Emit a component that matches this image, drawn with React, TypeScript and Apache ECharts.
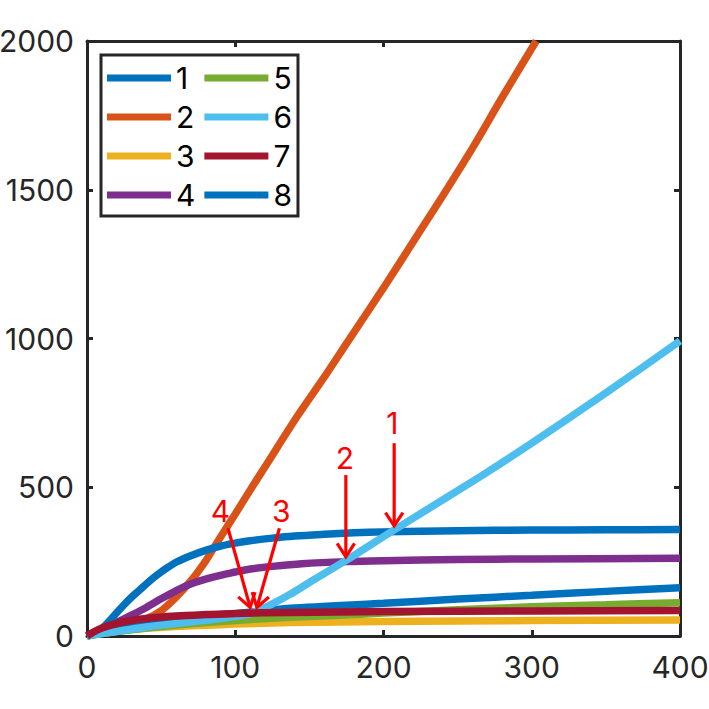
import React, { useEffect, useRef } from "react";
import * as echarts from "echarts";

const seriesNames = ["1", "2", "3", "4", "5", "6", "7", "8"];
const seriesColors = ["#0072BD", "#D95319", "#EDB120", "#7E2F8E", "#77AC30", "#4DBEEE", "#A2142F", "#0072BD"];
// drawing order (higher = on top)
const seriesStack = [15, 12, 10, 14, 11, 16, 17, 12.5];

const s1 = [[0, 0], [5, 8], [10, 25], [15, 50], [20, 78], [25, 105], [30, 130], [35, 152], [40, 175], [45, 196], [50, 215], [55, 232], [60, 248], [70, 270], [80, 288], [90, 302], [100, 312], [110, 320], [125, 329], [140, 336], [160, 342], [180, 347], [200, 350], [250, 354], [300, 356], [350, 357], [400, 358]];
const s2 = [[0, 0], [10, 14], [20, 30], [30, 44], [40, 58], [50, 85], [60, 130], [70, 185], [80, 252], [85, 292], [90, 332], [100, 410], [110, 490], [120, 568], [141.6, 737], [160, 870], [175, 983], [200, 1170], [225, 1364], [240, 1480], [260, 1640], [280, 1810], [303, 2000]];
const s3 = [[0, 0], [10, 10], [20, 17], [40, 26], [60, 32], [80, 36], [100, 40], [137, 45], [200, 49], [300, 52], [400, 54]];
const s4 = [[0, 0], [10, 22], [20, 45], [30, 70], [40, 96], [50, 125], [60, 152], [70, 175], [85, 198], [100, 215], [110, 225], [125, 234], [145, 243], [175, 250], [200, 253], [250, 257], [300, 259], [400, 261]];
const s5 = [[0, 0], [10, 8], [20, 15], [40, 27], [60, 37], [80, 45], [100, 52], [137, 63], [170, 70], [200, 77], [250, 88], [300, 98], [350, 105], [400, 112]];
const s6 = [[0, 0], [10, 8], [20, 15], [40, 30], [60, 42], [80, 53], [95, 63], [105, 70], [110, 75], [120, 95], [137, 140], [150, 180], [175, 255], [207, 356], [265, 535], [300, 648], [350, 817], [400, 992]];
const s7 = [[0, 0], [5, 15], [10, 27], [20, 42], [30, 52], [40, 59], [60, 67], [80, 72], [100, 76], [137, 79], [200, 82], [300, 84], [400, 86]];
const s8 = [[0, 0], [10, 22], [20, 36], [40, 53], [60, 62], [80, 69], [100, 75], [120, 84], [137, 93], [200, 110], [250, 124], [300, 137], [350, 150], [400, 162]];
const seriesData = [s1, s2, s3, s4, s5, s6, s7, s8];

const xAxisRange = { min: 0, max: 400, interval: 100 };
const yAxisRange = { min: 0, max: 2000, interval: 500 };

const annotationLabels = ["1", "2", "3", "4"];
const annotationTextAt = [[206, 716], [174, 600], [131, 420], [90, 420]];
const annotationFrom = [[207.2, 648], [174.6, 541], [129.8, 362], [95.1, 362]];
const annotationTo = [[207.2, 370], [174.6, 266], [114.6, 96], [110.1, 96]];

const FONT = "Inter";
const AX = "#262626";

export default function App() {
  const ref = useRef<HTMLDivElement>(null);
  useEffect(() => {
    if (!ref.current) return;
    const chart = echarts.init(ref.current, null, { renderer: "svg" });
    const axisCommon = {
      type: "value" as const,
      splitLine: { show: false },
      axisLine: { show: true, onZero: false, lineStyle: { color: AX, width: 3 } },
      axisTick: { show: true, inside: true, length: 6, lineStyle: { color: AX, width: 3 } },
    };
    const option: any = {
      animation: false,
      backgroundColor: "#fff",
      grid: { left: 87, right: 29, top: 41, bottom: 73, outerBoundsMode: "none", containLabel: false },
      legend: {
        orient: "vertical",
        left: 101,
        top: 55,
        height: 150,
        padding: [8, 6, 6, 6],
        itemGap: 9,
        itemWidth: 64,
        itemHeight: 7,
        icon: "rect",
        borderColor: AX,
        borderWidth: 3,
        backgroundColor: "#fff",
        z: 50,
        textStyle: { fontSize: 30, lineHeight: 30, color: "#000", fontFamily: FONT },
        data: seriesNames,
      },
      xAxis: [
        {
          ...axisCommon,
          ...xAxisRange,
          position: "bottom",
          axisLabel: { fontSize: 30, color: AX, fontFamily: FONT, margin: 16, formatter: (v: number) => String(v) },
        },
        {
          ...axisCommon,
          ...xAxisRange,
          position: "top",
          axisLabel: { show: false },
        },
      ],
      yAxis: [
        {
          ...axisCommon,
          ...yAxisRange,
          position: "left",
          axisLabel: { fontSize: 30, color: AX, fontFamily: FONT, margin: 13, formatter: (v: number) => String(v) },
        },
        {
          ...axisCommon,
          ...yAxisRange,
          position: "right",
          axisLabel: { show: false },
        },
      ],
      series: seriesData.map((d, i) => ({
        name: seriesNames[i],
        type: "line",
        data: d,
        xAxisIndex: 0,
        yAxisIndex: 0,
        showSymbol: false,
        symbol: "none",
        smooth: 0.3,
        color: seriesColors[i],
        lineStyle: { width: 7.5, color: seriesColors[i], cap: "butt" },
        z: seriesStack[i],
      })),
    };
    chart.setOption(option);

    const els: any[] = [];
    annotationLabels.forEach((lab, i) => {
      const t = chart.convertToPixel({ xAxisIndex: 0, yAxisIndex: 0 }, annotationTextAt[i]) as number[];
      const a = chart.convertToPixel({ xAxisIndex: 0, yAxisIndex: 0 }, annotationFrom[i]) as number[];
      const b = chart.convertToPixel({ xAxisIndex: 0, yAxisIndex: 0 }, annotationTo[i]) as number[];
      els.push({
        type: "text",
        x: t[0],
        y: t[1],
        z: 100,
        style: { text: lab, fill: "#FF0000", font: `30px "${FONT}"`, textAlign: "center", textVerticalAlign: "middle" },
      });
      const ang = Math.atan2(b[1] - a[1], b[0] - a[0]);
      const L = 16;
      const half = (33 * Math.PI) / 180;
      const p1 = [b[0] - L * Math.cos(ang - half), b[1] - L * Math.sin(ang - half)];
      const p2 = [b[0] - L * Math.cos(ang + half), b[1] - L * Math.sin(ang + half)];
      els.push({
        type: "line",
        z: 100,
        shape: { x1: a[0], y1: a[1], x2: b[0], y2: b[1] },
        style: { stroke: "#FF0000", lineWidth: 3.2 },
      });
      els.push({
        type: "polyline",
        z: 100,
        shape: { points: [p1, b, p2] },
        style: { stroke: "#FF0000", lineWidth: 3.2, fill: null },
      });
    });
    chart.setOption({ graphic: { elements: els } });

    return () => chart.dispose();
  }, []);
  return <div ref={ref} style={{ position: "fixed", left: 0, top: 0, width: 709, height: 709 }} />;
}
